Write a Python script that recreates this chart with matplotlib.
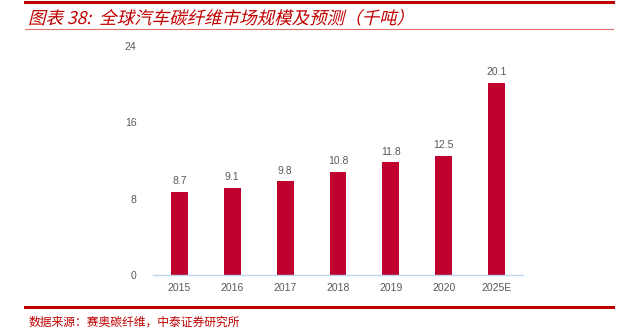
import matplotlib
matplotlib.use("Agg")
import matplotlib.pyplot as plt
from matplotlib.lines import Line2D
from matplotlib.textpath import TextPath
from matplotlib.patches import PathPatch
from matplotlib.font_manager import FontProperties
from matplotlib.transforms import Affine2D, IdentityTransform

plt.rcParams['font.family'] = ['Noto Sans CJK SC', 'DejaVu Sans']

years = ['2015', '2016', '2017', '2018', '2019', '2020', '2025E']
values = [8.7, 9.1, 9.8, 10.8, 11.8, 12.5, 20.1]
yticks = [0, 8, 16, 24]

title = '图表 38:  全球汽车碳纤维市场规模及预测（千吨）'
source = '数据来源：赛奥碳纤维，中泰证券研究所'

red = '#C00000'
bar_color = '#C0002F'
grey = '#595959'

fig = plt.figure(figsize=(6.25, 3.3), dpi=100)
ax = fig.add_axes([0.2448, 0.1667, 0.592, 0.6939])

x = range(len(years))
bars = ax.bar(x, values, width=0.32, color=bar_color, zorder=2)
for xi, v in zip(x, values):
    ax.text(xi, v + 0.6, f'{v:.1f}', ha='center', va='bottom',
            fontsize=7.5, color=grey, family=['Liberation Sans', 'DejaVu Sans'])

ax.set_xlim(-0.5, len(years) - 0.5)
ax.set_ylim(0, 24)
ax.set_yticks(yticks)
ax.set_xticks(list(x))
ax.set_xticklabels(years)
for lab in ax.get_xticklabels() + ax.get_yticklabels():
    lab.set_fontsize(7.5)
    lab.set_color(grey)
    lab.set_family(['Liberation Sans', 'DejaVu Sans'])
ax.tick_params(length=0, pad=6)
ax.tick_params(axis='y', pad=12)
for s in ['top', 'right', 'left']:
    ax.spines[s].set_visible(False)
ax.spines['bottom'].set_color('#BDD7EE')
ax.spines['bottom'].set_linewidth(1)

# header / footer decoration
fig.add_artist(Line2D([0.04, 0.98], [0.993, 0.993], color=red, lw=2.2,
                      transform=fig.transFigure))
fig.add_artist(Line2D([0.04, 0.98], [0.912, 0.912], color='#E07070', lw=0.8,
                      transform=fig.transFigure))
fig.add_artist(Line2D([0.04, 0.98], [0.07, 0.07], color=red, lw=2.2,
                      transform=fig.transFigure))

# slanted (italic-looking) title drawn as a path
fp = FontProperties(family='Noto Sans CJK SC', weight='regular')
tp = TextPath((0, 0), title, size=17.5, prop=fp)
tr = Affine2D().skew_deg(14, 0).translate(28, 330 - 24)
fig.add_artist(PathPatch(tr.transform_path(tp), facecolor=red, edgecolor='none',
                         transform=IdentityTransform()))

fig.text(0.045, 0.025, source, fontsize=8.5, color=red, ha='left', va='center')

fig.savefig('out.png', dpi=100)
